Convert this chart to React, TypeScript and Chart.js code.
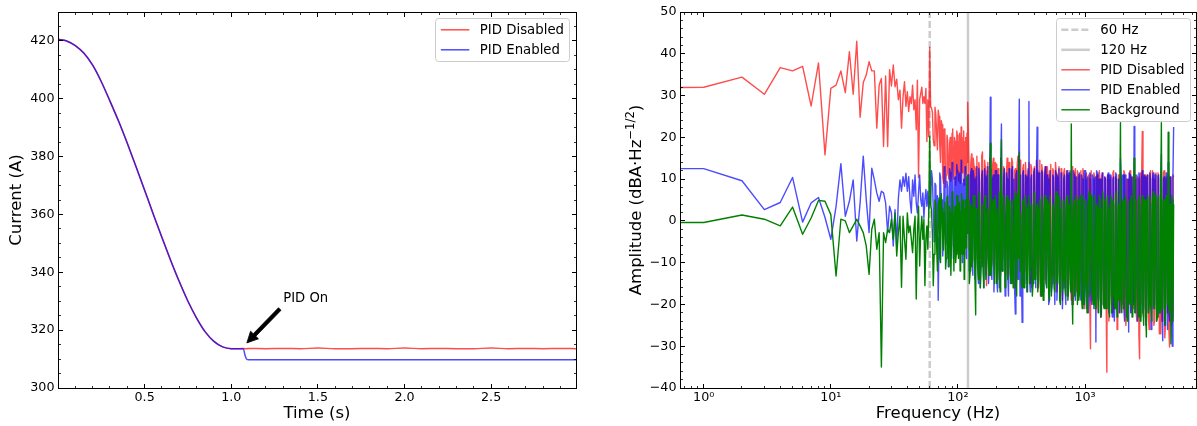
import React, { useEffect, useRef } from 'react';
import { Chart, registerables } from 'chart.js';

Chart.register(...registerables);

const FONT = "'DejaVu Sans', sans-serif";

// ---------------- Left panel: current vs time ----------------
const timeS = [
  0, 0.05, 0.1, 0.15, 0.2, 0.25, 0.3, 0.35, 0.4, 0.45,
  0.5, 0.55, 0.6, 0.65, 0.7, 0.75, 0.8, 0.85, 0.9, 0.95,
  1.0, 1.05, 1.07, 1.08, 1.09, 1.1, 1.2, 1.3, 1.4, 1.5,
  1.6, 1.7, 1.8, 1.9, 2.0, 2.1, 2.2, 2.3, 2.4, 2.5,
  2.6, 2.7, 2.8, 2.9, 2.99,
];
const currentPidOffA = [
  420.6, 420.0, 418.4, 415.7, 411.6, 405.9, 399.2, 392.2, 384.6, 376.6,
  368.4, 360.1, 352.0, 344.2, 336.8, 330.0, 324.2, 319.4, 316.1, 314.2,
  313.6, 313.6, 313.7, 313.6, 313.6, 313.7, 313.6, 313.7, 313.6, 313.8,
  313.6, 313.6, 313.7, 313.6, 313.8, 313.6, 313.7, 313.6, 313.6, 313.8,
  313.6, 313.7, 313.6, 313.7, 313.6,
];
const currentPidOnA = [
  420.6, 420.0, 418.4, 415.7, 411.6, 405.9, 399.2, 392.2, 384.6, 376.6,
  368.4, 360.1, 352.0, 344.2, 336.8, 330.0, 324.2, 319.4, 316.1, 314.2,
  313.6, 313.6, 313.5, 311.2, 309.9, 309.8, 309.8, 309.8, 309.8, 309.8,
  309.8, 309.8, 309.8, 309.8, 309.8, 309.8, 309.8, 309.8, 309.8, 309.8,
  309.8, 309.8, 309.8, 309.8, 309.8,
];
const timeTickValues = [0.5, 1.0, 1.5, 2.0, 2.5];
const currentTickValues = [300, 320, 340, 360, 380, 400, 420];

const annotationLabel = 'PID On';
const annotationTip = { x: 1.09, y: 315.6 };
const annotationTail = { x: 1.28, y: 327.3 };
const annotationTextAt = { x: 1.3, y: 329.8 };

// ---------------- Right panel: amplitude spectrum ----------------
const freqLowHz = [
  0.5, 1, 2, 3, 4, 5, 6, 7, 8, 9, 10,
  11, 12, 13, 14, 15, 16, 17, 18, 19, 20,
  21, 22, 23, 24, 25, 26, 27, 28, 29, 30,
  31, 32, 33, 34, 35, 36, 37, 38, 39, 40,
  41, 42, 43, 44, 45, 46, 47, 48, 49, 50,
  51, 52, 53, 54, 55, 56, 57, 58, 59, 60,
];
const freqMidHz = [
  62, 64, 66, 68, 70, 72, 74, 76, 78, 80,
  82, 84, 86, 88, 90, 92, 94, 96, 98, 100,
  102, 104, 106, 108, 110, 112, 114, 116, 118, 120,
];
const freqMidBHz = [
  61, 63, 65, 67, 69, 71, 73, 75, 77, 79,
  81, 83, 85, 87, 89, 91, 93, 95, 97, 99,
  101, 103, 105, 107, 109, 111, 113, 115, 117, 119,
];
const freqHighHz = [
  122, 125, 128, 131, 134, 138, 141, 145, 148, 152,
  156, 160, 164, 168, 172, 176, 180, 185, 190, 195,
  200, 205, 210, 215, 220, 226, 232, 238, 244, 250,
  256, 262, 269, 276, 283, 290, 297, 304, 312, 320,
  328, 336, 344, 353, 362, 371, 380, 390, 400, 410,
  420, 430, 441, 452, 463, 475, 487, 499, 512, 525,
  538, 551, 565, 579, 594, 609, 624, 640, 656, 672,
  689, 706, 724, 742, 760, 780, 800, 820, 840, 861,
  883, 905, 928, 951, 975, 1000, 1025, 1050, 1077, 1104,
  1131, 1160, 1189, 1218, 1249, 1280, 1312, 1345, 1379, 1413,
  1449, 1485, 1522, 1560, 1599, 1639, 1680, 1722, 1765, 1809,
  1855, 1901, 1949, 1997, 2047, 2099, 2151, 2205, 2260, 2317,
  2375, 2434, 2495, 2557, 2621, 2687, 2754, 2823, 2893, 2966,
  3040, 3116, 3194, 3274, 3355, 3439, 3525, 3613, 3704, 3796,
  3891, 3989, 4088, 4190, 4295, 4403, 4513, 4625, 4741, 4860,
  4981,
];
const freqHighBHz = [
  123, 126, 129, 132, 136, 139, 143, 146, 150, 154,
  158, 162, 166, 170, 174, 178, 182, 187, 192, 197,
  202, 207, 212, 217, 223, 229, 235, 241, 247, 253,
  259, 265, 272, 279, 286, 293, 300, 308, 316, 324,
  332, 340, 348, 357, 366, 375, 385, 395, 405, 415,
  425, 435, 446, 457, 469, 481, 493, 505, 518, 531,
  544, 558, 572, 586, 601, 616, 632, 648, 664, 680,
  697, 715, 733, 751, 770, 790, 810, 830, 850, 872,
  894, 916, 939, 963, 987, 1012, 1037, 1063, 1090, 1117,
  1145, 1174, 1203, 1233, 1264, 1296, 1328, 1362, 1396, 1431,
  1467, 1503, 1541, 1579, 1619, 1659, 1701, 1743, 1787, 1832,
  1878, 1925, 1973, 2022, 2073, 2125, 2178, 2232, 2288, 2346,
  2404, 2464, 2526, 2589, 2654, 2720, 2788, 2858, 2929, 3003,
  3078, 3155, 3234, 3314, 3397, 3482, 3569, 3658, 3750, 3843,
  3940, 4038, 4139, 4242, 4349, 4458, 4569, 4683, 4800, 4920,
];

// PID Disabled
const ampDisabledLow = [
  31.9, 32.0, 34.4, 30.3, 36.7, 35.9, 37.0, 27.5, 37.8, 15.8, 31.7,
  32.5, 35.9, 30.7, 40.5, 30.3, 43.0, 24.8, 33.1, 34.9, 38.1,
  35.9, 35.9, 22.2, 32.5, 34.1, 17.8, 34.7, 17.8, 36.2, 32.3,
  37.3, 32.1, 33.9, 29.0, 31.3, 22.2, 29.7, 33.3, 27.4, 30.9,
  26.2, 29.7, 28.1, 32.5, 26.6, 29.0, 21.8, 33.7, 10.3, 29.0,
  30.5, 32.0, 28.1, 29.7, 28.1, 31.7, 19.0, 29.0, 20.2, 41.6,
];
const ampDisabledMid = [
  27.0, 19.5, 27.2, 21.0, 26.5, 18.0, 24.0, 10.5, 22.0, 8.0,
  20.5, 12.0, 18.5, 9.5, 21.0, 11.0, 20.0, 8.5, 21.5, 12.5,
  19.0, 9.0, 22.5, 11.5, 20.0, 8.5, 19.0, 12.0, 21.0, 28.4,
];
const ampDisabledMidB = [
  27.4, 26.0, 18.0, 25.5, 17.0, 25.0, 14.0, 23.0, 9.0, 21.0,
  11.0, 19.5, 10.0, 20.0, 12.5, 22.0, 10.0, 19.0, 11.5, 20.5,
  9.5, 21.0, 10.5, 19.5, 12.0, 21.5, 9.5, 20.0, 11.0, 14.0,
];
const ampDisabledHigh = [
  14.5, -6, 16, -4, 13, -9, 15.5, -3, 12, -8,
  16.5, -5, 13, -15.5, 14, -7, 12.5, -10, 15, -4,
  13.5, -12, 11, -6, 14.5, -9, 12, -13, 15, -5,
  11.5, -11, 14, -8, 12.5, -14, 15.5, -6, 12, -10,
  13.5, -12, 11, -7, 14, -15, 12.5, -9, 13, -13,
  11.5, -16, 14.5, -8, 12, -14, 13, -11, 11, -17,
  13.5, -10, 12, -15, 11.5, -12, 13, -18, 11, -9,
  12.5, -16, 11, -13, 12, -19, 10.5, -11, 12.5, -17,
  11, -14, 12, -20, 10.5, -12, 11.5, -18, 10, -30.6,
  12, -15, 10.5, -21, 11, -17, 10, -23, 11.5, -14,
  10, -36.2, 11, -19, 10.5, -22, 12, -16, 10, -24,
  11, -18, 10.5, -21, 11.5, -25, 10, -17, 12, -22,
  10.5, -19, 11, -24, 10, -33, -20, 21.4, -23, 11,
  -18, 10.5, -26, 12, -20, 10, -24, 11.5, -19, 10,
  -27, 11, -21, 12, -25, 10.5, 11, -30.2, 10, -23,
  10.5,
];
const ampDisabledHighB = [
  -7, 13.5, -5, 15, -10, 12.5, -6, 14, -9, 15.5,
  -11, 14.5, -6, 12, -9, 15, -12, 13, -5, 14,
  -8, 12.5, -14, 15, -7, 13, -10, 11.5, -12, 14,
  -13, 15, -9, 12, -16, 13.5, -8, 14.5, -11, 12.5,
  -10, 14, -14, 12, -8, 13.5, -16, 11.5, -12, 14.5,
  -13, 12, -18, 13.5, -10, 11.5, -15, 13, -12, 12,
  -16, 12.5, -11, 14, -17, 11, -13, 12.5, -19, 11.5,
  -14, 12, -18, 11, -15, 13, -20, 11.5, -13, 12,
  -18, 11, -15, 12.5, -21, 10.5, -16, 11, -19, 12,
  -19, 11.5, -16, 10.5, -22, 12, -18, 11, -20, 10.5,
  -20, 11, -24, 10, -18, 11.5, -21, 10.5, -26, 11,
  -22, 10.5, -19, 12, -23, 10, -21, 11.5, -18, 10.5,
  -21, 11, -22, 10.5, -27, 11.5, 10, -22, 10.5, -24,
  11, -23, 10.5, -21, 12, -25, 10, -22, 11.5, -27,
  10.5, -24, 11.5, -28, 10, -22, -26, 10.5, -25, 11,
];

// PID Enabled
const ampEnabledLow = [
  12.5, 12.5, 9.6, 2.7, 4.4, 10.4, -0.3, 4.3, 5.6, 0.8, -4.4,
  3.5, 13.7, 1.1, 4.7, 9.8, -4.8, 4.3, 15.5, 5.1, -2.8,
  12.6, 9.8, 6.7, 4.7, 7.1, 6.7, 4.3, -2.8, 3.5, 1.9,
  -6.0, 2.7, -6.0, 5.4, 9.8, 7.1, 10.6, 8.3, 11.4, 7.1,
  10.6, 5.1, 1.9, 9.8, 5.9, 11.0, 4.3, 1.9, 6.7, 11.0,
  5.1, 3.5, 6.7, 0.7, 5.1, 7.5, 3.5, 7.1, 2.7, 5.9,
];
const ampEnabledMid = [
  12.0, 3.0, 9.0, -2.0, -19.0, 11.5, 2.0, -8.4, 13.0, -6.0,
  9.5, -11.0, 12.5, 0.5, 14.0, -9.0, 10.0, -3.0, 13.5, -7.0,
  11.0, -4.0, 14.5, -10.0, 9.0, -1.0, 13.0, -8.0, 10.5, 11.0,
];
const ampEnabledMidB = [
  4.0, 10.0, -5.0, 8.5, 6.0, -4.0, 10.5, 5.0, -3.0, 11.0,
  -5.0, 8.0, -2.0, 11.5, -6.0, 12.0, -8.0, 10.5, -4.0, 12.0,
  -6.0, 11.5, -3.0, 12.0, -7.0, 10.0, -5.0, 12.5, -9.0, 4.0,
];
const ampEnabledHigh = [
  11, -8, 12.5, -13, 10, -10, 13, -15, 9.5, -11,
  12, -16, 10.5, -9, 13, -12, 29.6, -14, 11, -10,
  12, -17, 10, -13, 23.2, -11, 12.5, -15, 10, -18,
  11.5, -12, 13, 10, -22.3, 12, -14, 29.1, 11, -24.3,
  12, -15, 10.5, -11, 28.6, -17, 11, -13, 12.5, -16,
  22.4, -12, 10, -18, 11.5, -14, 13, -16, 10, -19,
  12, -15, 10.5, -20, 11, -13, 12.5, -18, 10, -16,
  11, -20, 12, -15, 10.5, 12, -17, 11, -19, 10,
  -14, 11.5, -19, 10, -16, 12, -21, 10.5, -17, 11,
  -20, 10, -18, -29, 11.5, -19, 10, -22, 11, -17,
  10, -21, 11.5, -18, 9.5, -23, 10.5, -19, 11, -22,
  10, 15, -20, 11, -24, 10.5, -19, -26.6, 11, -21,
  10.5, 22.6, -22, 11, -20, 10, -23, 12, -21, 10.5,
  -24, 11, -19, 10, -25, 11.5, -20, 10, -23, 11,
  -21, 16, -28.7, 10.5, -22, 11, 14, -24, 10, -30,
  22.5,
];
const ampEnabledHighB = [
  -12, 11.5, -9, 12, -14, 10.5, -11, 12.5, -16, 11,
  -10, 12.5, -13, 11, -15, 11.5, -12, 10, -17, 12,
  -14, 11, -16, 12, -12, 10.5, -18, 11.5, -13, 12.5,
  -15, 12, -11, -16, 11, -13, 10.5, -18, -12, 11.5,
  -13, 11, -17, 12.5, -14, 10, -16, 11.5, -12, 10.5,
  -16, 11.5, -14, 12, -17, 10.5, -13, 11, -20, 12,
  -17, 11, -14, 12, -19, 10.5, -16, 11.5, -21, 10,
  -16, 10.5, -18, 11.5, -14, -20, 12, -16, 10.5, -18,
  10.5, -17, 11, -20, 12, -15, 10, -22, 11.5, -19,
  11, -21, 10.5, 12, -18, 10, -23, 11.5, -20, 10.5,
  -19, 10.5, -22, 11, -20, 10, -24, 11.5, -21, 10,
  -22, 11, 10.5, -21, 11, -23, 10, 11.5, -22, 10.5,
  -20, 11, 10, -24, 11.5, -21, 10.5, -22, 11, -25,
  10.5, -22, 11.5, -26, 10, -21, 11, -24, 10.5, -22,
  11, -23, 10, -25, 11.5, -26, -21, 10.5, -27, 11,
];

// Background
const ampBackgroundLow = [
  -0.4, -0.4, 1.4, 0.4, -1.2, 3.3, -3.2, 0.7, 4.9, 4.7, 1.5,
  -13.2, 0.4, 0.0, -2.8, -1.2, 0.4, -1.2, -2.8, -6.0, -12.8,
  -2.0, 0.4, -6.8, -2.8, -35.0, -2.8, -5.2, -2.0, -2.8, 0.4,
  -4.4, 1.9, -8.4, -2.8, 1.1, -15.9, 1.1, -4.4, -9.2, 1.9,
  -2.8, -1.2, -4.4, -7.6, -2.0, 1.1, -18.7, -2.8, 3.5, -10.8,
  -2.8, 1.1, -4.4, 0.4, -15.5, -4.4, -1.2, -6.8, 2.7, 20.3,
];
const ampBackgroundMid = [
  2.5, -15.5, 5.0, -6.0, 3.0, -9.0, 6.5, -4.0, 2.0, -11.5,
  5.5, -7.0, 3.5, -13.0, 7.0, -3.5, 1.0, -10.0, 6.0, -5.5,
  4.0, -12.0, 2.5, -8.0, 5.0, -14.0, 3.0, -6.5, 10.7, -3.0,
];
const ampBackgroundMidB = [
  4.0, -3.0, -8.0, 4.0, -12.0, 5.5, -10.0, 3.0, -7.0, 4.5,
  -9.0, 6.0, -11.0, 2.0, -6.0, 5.0, -12.0, 3.5, -8.0, 6.0,
  -9.0, 4.5, -10.5, 6.5, -7.0, 3.0, -12.5, 5.0, -5.0, 3.0,
];
const ampBackgroundHigh = [
  5, -12, 3, -9, 6, -22.5, 2, -14, 7, -10,
  4, -16, 6, -11, 3, -13, 18.6, -9, 5, -15,
  2, -12, 7, -17, 19.4, -10, 4, -14, 6, -11,
  3, -15, 5, -12, 7, -18, -9, 16.3, 2, -16,
  5, -13, 3, -17, 6, -11, 4, -15, 7, -12,
  4, -14, 5, -18, 3, -12, 6, -16, 4, -19,
  6, -13, 3, -17, 7, -15, 4, -20, 5, -14,
  3, -18, 6, -16, 4, 23.2, -24.7, 5, -15, 6,
  5, -17, 3, -21, 6, -15, 4, -19, 7, -16,
  4, -20, 6, -18, 3, -22, 5, -17, 7, -21,
  5, -19, 3, -23, 6, -18, 4, -21, 7, -20,
  -19, 23.5, -22, 5, -18, 6, -24, 4, -20, 6,
  -21, 15, -19, 5, -23, 4, -20, 6, -25, 5,
  -27.8, 6, -20, 4, -24, 7, -21, 5, -23, 6,
  -22, 23.5, -19, 5, -25, 4, 21.2, -20, -29.4, 5,
  4,
];
const ampBackgroundHighB = [
  -15, 4, -11, 6, -13, 3, -10, 5, -16, 2,
  -12, 5, -14, 2, -10, 7, -13, 4, -11, 6,
  -15, 3, -13, 5, -12, 6, -16, 2, -14, 5,
  -13, 4, -16, 3, -14, 6, 4, -12, -15, 5,
  -16, 6, -12, 4, -15, 3, -18, 5, -14, 2,
  -17, 3, -15, 6, -19, 4, -14, 5, -17, 6,
  -18, 4, -16, 5, -14, 6, -19, 3, -17, 5,
  -16, 5, -19, 4, -17, -15, 3, -18, 6, -20,
  -19, 6, -18, 4, -20, 5, -22, 3, -18, 6,
  -18, 5, -21, 4, -19, 6, -23, 3, -20, 5,
  -21, 6, -20, 4, -22, 5, -19, 6, -23, 4,
  5, -20, 4, -21, 6, -22, 5, -19, 4, -23,
  6, -22, 5, -20, 6, -24, 4, -21, 5, -22,
  5, -22, 6, -21, 4, -20, 6, -24, 5, -21,
  6, -21, 5, -23, 6, -20, -22, 4, 6, -24,
];

const markerFreqsHz = [60, 120];
const markerLabels = ['60 Hz', '120 Hz'];
const freqTickValues = [1, 10, 100, 1000];
const ampTickValues = [-40, -30, -20, -10, 0, 10, 20, 30, 40, 50];

const AMP_MIN = -40;
const AMP_MAX = 50;
const FREQ_MIN = 0.6508;
const FREQ_MAX = 7468;

const SUP: Record<string, string> = { '0': '⁰', '1': '¹', '2': '²', '3': '³', '4': '⁴', '-': '⁻' };

// ---------------- plugins ----------------
function makeFramePlugin(cfg: { xMajor: number[]; xMinor: number[]; yMajor: number[]; yMinor: number[] }) {
  return {
    id: 'frameTicks',
    afterDatasetsDraw(chart: any) {
      const { ctx, chartArea: a } = chart;
      const xs = chart.scales.x;
      const ys = chart.scales.y;
      const L = Math.floor(a.left) + 0.5;
      const R = Math.floor(a.right) + 0.5;
      const T = Math.floor(a.top) + 0.5;
      const B = Math.floor(a.bottom) + 0.5;
      ctx.save();
      ctx.strokeStyle = '#000';
      ctx.lineWidth = 1;
      ctx.beginPath();
      const xt = (vals: number[], len: number) => {
        for (const v of vals) {
          const p = xs.getPixelForValue(v);
          if (p <= a.left + 1 || p >= a.right - 1) continue;
          const px = Math.floor(p) + 0.5;
          ctx.moveTo(px, B);
          ctx.lineTo(px, B - len);
          ctx.moveTo(px, T);
          ctx.lineTo(px, T + len);
        }
      };
      const yt = (vals: number[], len: number) => {
        for (const v of vals) {
          const p = ys.getPixelForValue(v);
          if (p <= a.top + 1 || p >= a.bottom - 1) continue;
          const py = Math.floor(p) + 0.5;
          ctx.moveTo(L, py);
          ctx.lineTo(L + len, py);
          ctx.moveTo(R, py);
          ctx.lineTo(R - len, py);
        }
      };
      xt(cfg.xMajor, 4.5);
      yt(cfg.yMajor, 4.5);
      ctx.stroke();
      ctx.beginPath();
      ctx.lineWidth = 0.8;
      xt(cfg.xMinor, 2.5);
      yt(cfg.yMinor, 2.5);
      ctx.stroke();
      ctx.lineWidth = 1;
      ctx.strokeRect(L, T, R - L, B - T);
      ctx.restore();
    },
  };
}

function makeLegendPlugin(cfg: { rightInset: number; topInset: number; fontSize: number }) {
  return {
    id: 'boxLegend',
    afterDraw(chart: any) {
      const { ctx, chartArea: a } = chart;
      const items = chart.data.datasets;
      ctx.save();
      ctx.font = `${cfg.fontSize}px ${FONT}`;
      const maxW = Math.max(...items.map((d: any) => ctx.measureText(d.label).width));
      const padL = 5;
      const handle = 28.5;
      const gap = 10.5;
      const padR = 6;
      const rowH = 20;
      const padV = 11.5;
      const w = padL + handle + gap + maxW + padR;
      const h = padV * 2 + rowH * (items.length - 1);
      const x1 = a.right - cfg.rightInset;
      const x0 = x1 - w;
      const y0 = a.top + cfg.topInset;
      const r = 3;
      const bx = Math.floor(x0) + 0.5;
      const by = Math.floor(y0) + 0.5;
      const bw = Math.round(w);
      const bh = Math.round(h);
      ctx.beginPath();
      ctx.moveTo(bx + r, by);
      ctx.lineTo(bx + bw - r, by);
      ctx.arcTo(bx + bw, by, bx + bw, by + r, r);
      ctx.lineTo(bx + bw, by + bh - r);
      ctx.arcTo(bx + bw, by + bh, bx + bw - r, by + bh, r);
      ctx.lineTo(bx + r, by + bh);
      ctx.arcTo(bx, by + bh, bx, by + bh - r, r);
      ctx.lineTo(bx, by + r);
      ctx.arcTo(bx, by, bx + r, by, r);
      ctx.closePath();
      ctx.fillStyle = 'rgba(255,255,255,0.8)';
      ctx.fill();
      ctx.strokeStyle = '#cccccc';
      ctx.lineWidth = 1;
      ctx.stroke();
      items.forEach((d: any, i: number) => {
        const y = y0 + padV + i * rowH;
        ctx.beginPath();
        ctx.strokeStyle = d.borderColor;
        ctx.lineWidth = d.borderWidth;
        ctx.setLineDash(d.borderDash || []);
        ctx.moveTo(x0 + padL, y);
        ctx.lineTo(x0 + padL + handle, y);
        ctx.stroke();
        ctx.setLineDash([]);
        ctx.fillStyle = '#000';
        ctx.textAlign = 'left';
        ctx.textBaseline = 'middle';
        ctx.fillText(d.label, x0 + padL + handle + gap, y + 0.5);
      });
      ctx.restore();
    },
  };
}

const annotationPlugin = {
  id: 'pidOnAnnotation',
  afterDraw(chart: any) {
    const { ctx } = chart;
    const xs = chart.scales.x;
    const ys = chart.scales.y;
    const tip = [xs.getPixelForValue(annotationTip.x), ys.getPixelForValue(annotationTip.y)];
    const tail = [xs.getPixelForValue(annotationTail.x), ys.getPixelForValue(annotationTail.y)];
    const txt = [xs.getPixelForValue(annotationTextAt.x), ys.getPixelForValue(annotationTextAt.y)];
    ctx.save();
    ctx.font = `13.2px ${FONT}`;
    ctx.fillStyle = '#000';
    ctx.textAlign = 'left';
    ctx.textBaseline = 'alphabetic';
    ctx.fillText(annotationLabel, txt[0], txt[1]);
    const dx = tip[0] - tail[0];
    const dy = tip[1] - tail[1];
    const len = Math.hypot(dx, dy);
    const ux = dx / len;
    const uy = dy / len;
    const nx = -uy;
    const ny = ux;
    const headLen = 11;
    const headW = 11;
    const shaftW = 3.6;
    const bxp = tip[0] - ux * headLen;
    const byp = tip[1] - uy * headLen;
    ctx.beginPath();
    ctx.moveTo(tail[0] + nx * shaftW / 2, tail[1] + ny * shaftW / 2);
    ctx.lineTo(bxp + nx * shaftW / 2, byp + ny * shaftW / 2);
    ctx.lineTo(bxp + nx * headW / 2, byp + ny * headW / 2);
    ctx.lineTo(tip[0], tip[1]);
    ctx.lineTo(bxp - nx * headW / 2, byp - ny * headW / 2);
    ctx.lineTo(bxp - nx * shaftW / 2, byp - ny * shaftW / 2);
    ctx.lineTo(tail[0] - nx * shaftW / 2, tail[1] - ny * shaftW / 2);
    ctx.closePath();
    ctx.fill();
    ctx.lineWidth = 0.8;
    ctx.strokeStyle = '#000';
    ctx.stroke();
    ctx.restore();
  },
};

const ampTitlePlugin = {
  id: 'ampTitle',
  afterDraw(chart: any) {
    const { ctx, chartArea: a } = chart;
    const main = 'Amplitude (dBA·Hz';
    const sup = '−1/2';
    const close = ')';
    const big = `16.5px ${FONT}`;
    const small = `11.6px ${FONT}`;
    ctx.save();
    ctx.font = big;
    const w1 = ctx.measureText(main).width;
    const w3 = ctx.measureText(close).width;
    ctx.font = small;
    const w2 = ctx.measureText(sup).width;
    const total = w1 + w2 + w3;
    ctx.translate(40.5, (a.top + a.bottom) / 2);
    ctx.rotate(-Math.PI / 2);
    ctx.fillStyle = '#000';
    ctx.textAlign = 'left';
    ctx.textBaseline = 'alphabetic';
    let x = -total / 2;
    ctx.font = big;
    ctx.fillText(main, x, 0);
    x += w1;
    ctx.font = small;
    ctx.fillText(sup, x, -7);
    x += w2;
    ctx.font = big;
    ctx.fillText(close, x, 0);
    ctx.restore();
  },
};

function range(a: number, b: number, step: number) {
  const out: number[] = [];
  for (let v = a; v <= b + 1e-9; v += step) out.push(Math.round(v * 1000) / 1000);
  return out;
}

function buildPoints(parts: Array<[number[], number[]]>) {
  const pts: { x: number; y: number }[] = [];
  for (const [fs, vs] of parts) {
    fs.forEach((f, i) => pts.push({ x: f, y: vs[i] }));
  }
  pts.sort((p, q) => p.x - q.x);
  return pts;
}

const tickFont = { family: FONT, size: 12.7 };
const titleFont = { family: FONT, size: 16.5 };

export default function App() {
  const leftRef = useRef<HTMLCanvasElement | null>(null);
  const rightRef = useRef<HTMLCanvasElement | null>(null);

  useEffect(() => {
    if (!leftRef.current || !rightRef.current) return;

    // ---------- left chart ----------
    const leftXMinor = range(0.1, 2.9, 0.1).filter((v) => !timeTickValues.some((m) => Math.abs(m - v) < 1e-6));
    const leftYMinor = range(305, 425, 5).filter((v) => v % 20 !== 0);

    const left = new Chart(leftRef.current, {
      type: 'line',
      data: {
        datasets: [
          {
            label: 'PID Disabled',
            data: timeS.map((t, i) => ({ x: t, y: currentPidOffA[i] })),
            borderColor: 'rgba(255,0,0,0.7)',
            borderWidth: 1.5,
            pointRadius: 0,
            cubicInterpolationMode: 'monotone',
            order: 1,
          },
          {
            label: 'PID Enabled',
            data: timeS.map((t, i) => ({ x: t, y: currentPidOnA[i] })),
            borderColor: 'rgba(0,0,255,0.7)',
            borderWidth: 1.5,
            pointRadius: 0,
            cubicInterpolationMode: 'monotone',
            order: 0,
          },
        ],
      },
      options: {
        animation: false,
        responsive: false,
        devicePixelRatio: 1,
        events: [],
        layout: { padding: { left: 0, right: 24, top: 12, bottom: 0 } },
        elements: { line: { borderJoinStyle: 'round' } },
        plugins: { legend: { display: false }, tooltip: { enabled: false } },
        scales: {
          x: {
            type: 'linear',
            min: 0,
            max: 2.99,
            grid: { display: false, drawTicks: false },
            border: { display: false },
            afterBuildTicks: (s: any) => {
              s.ticks = timeTickValues.map((v) => ({ value: v }));
            },
            afterFit: (s: any) => {
              s.height = 38;
            },
            ticks: {
              autoSkip: false,
              maxRotation: 0,
              padding: 2,
              color: '#000',
              font: tickFont,
              callback: (v: any) => Number(v).toFixed(1),
            },
            title: {
              display: true,
              text: 'Time (s)',
              color: '#000',
              font: titleFont,
              padding: { top: 0, bottom: 2 },
            },
          },
          y: {
            type: 'linear',
            min: 300,
            max: 430,
            grid: { display: false, drawTicks: false },
            border: { display: false },
            afterBuildTicks: (s: any) => {
              s.ticks = currentTickValues.map((v) => ({ value: v }));
            },
            afterFit: (s: any) => {
              s.width = 58;
            },
            ticks: {
              autoSkip: false,
              padding: 3.5,
              color: '#000',
              font: tickFont,
              callback: (v: any) => String(v),
            },
            title: {
              display: true,
              text: 'Current (A)',
              color: '#000',
              font: titleFont,
              padding: { top: 7, bottom: 0 },
            },
          },
        },
      } as any,
      plugins: [
        makeFramePlugin({ xMajor: timeTickValues, xMinor: leftXMinor, yMajor: currentTickValues, yMinor: leftYMinor }),
        annotationPlugin,
        makeLegendPlugin({ rightInset: 6, topInset: 6.3, fontSize: 13.3 }),
      ],
    });

    // ---------- right chart ----------
    const disabled = buildPoints([
      [freqLowHz, ampDisabledLow],
      [freqMidHz, ampDisabledMid],
      [freqMidBHz, ampDisabledMidB],
      [freqHighHz, ampDisabledHigh],
      [freqHighBHz, ampDisabledHighB],
    ]);
    const enabled = buildPoints([
      [freqLowHz, ampEnabledLow],
      [freqMidHz, ampEnabledMid],
      [freqMidBHz, ampEnabledMidB],
      [freqHighHz, ampEnabledHigh],
      [freqHighBHz, ampEnabledHighB],
    ]);
    const background = buildPoints([
      [freqLowHz, ampBackgroundLow],
      [freqMidHz, ampBackgroundMid],
      [freqMidBHz, ampBackgroundMidB],
      [freqHighHz, ampBackgroundHigh],
      [freqHighBHz, ampBackgroundHighB],
    ]);

    const rightXMinor: number[] = [];
    for (let k = -1; k <= 3; k++) {
      for (let m = 2; m <= 9; m++) {
        const v = m * Math.pow(10, k);
        if (v > FREQ_MIN && v < FREQ_MAX) rightXMinor.push(v);
      }
    }
    const rightYMinor = range(-38, 48, 2).filter((v) => v % 10 !== 0);

    const right = new Chart(rightRef.current, {
      type: 'line',
      data: {
        datasets: [
          {
            label: markerLabels[0],
            data: [
              { x: markerFreqsHz[0], y: AMP_MIN },
              { x: markerFreqsHz[0], y: AMP_MAX },
            ],
            borderColor: 'rgba(128,128,128,0.4)',
            borderWidth: 2.5,
            borderDash: [7, 3],
            pointRadius: 0,
            order: 4,
          },
          {
            label: markerLabels[1],
            data: [
              { x: markerFreqsHz[1], y: AMP_MIN },
              { x: markerFreqsHz[1], y: AMP_MAX },
            ],
            borderColor: 'rgba(128,128,128,0.4)',
            borderWidth: 2.5,
            pointRadius: 0,
            order: 3,
          },
          {
            label: 'PID Disabled',
            data: disabled,
            borderColor: 'rgba(255,0,0,0.7)',
            borderWidth: 1.4,
            pointRadius: 0,
            order: 2,
          },
          {
            label: 'PID Enabled',
            data: enabled,
            borderColor: 'rgba(0,0,255,0.7)',
            borderWidth: 1.4,
            pointRadius: 0,
            order: 1,
          },
          {
            label: 'Background',
            data: background,
            borderColor: 'rgb(0,128,0)',
            borderWidth: 1.4,
            pointRadius: 0,
            order: 0,
          },
        ],
      },
      options: {
        animation: false,
        responsive: false,
        devicePixelRatio: 1,
        events: [],
        layout: { padding: { left: 0, right: 1, top: 12, bottom: 0 } },
        elements: { line: { borderJoinStyle: 'round', tension: 0 } },
        plugins: { legend: { display: false }, tooltip: { enabled: false } },
        scales: {
          x: {
            type: 'logarithmic',
            min: FREQ_MIN,
            max: FREQ_MAX,
            grid: { display: false, drawTicks: false },
            border: { display: false },
            afterBuildTicks: (s: any) => {
              s.ticks = freqTickValues.map((v) => ({ value: v }));
            },
            afterFit: (s: any) => {
              s.height = 38;
            },
            ticks: {
              autoSkip: false,
              maxRotation: 0,
              padding: 2,
              color: '#000',
              font: tickFont,
              callback: (v: any) => {
                const e = String(Math.round(Math.log10(Number(v))));
                return '10' + e.split('').map((c) => SUP[c] || c).join('');
              },
            },
            title: {
              display: true,
              text: 'Frequency (Hz)',
              color: '#000',
              font: titleFont,
              padding: { top: 0, bottom: 2 },
            },
          },
          y: {
            type: 'linear',
            min: AMP_MIN,
            max: AMP_MAX,
            grid: { display: false, drawTicks: false },
            border: { display: false },
            afterBuildTicks: (s: any) => {
              s.ticks = ampTickValues.map((v) => ({ value: v }));
            },
            afterFit: (s: any) => {
              s.width = 80;
            },
            ticks: {
              autoSkip: false,
              padding: 3.5,
              color: '#000',
              font: tickFont,
              callback: (v: any) => (Number(v) < 0 ? '−' + Math.abs(Number(v)) : String(v)),
            },
            title: { display: false },
          },
        },
      } as any,
      plugins: [
        makeFramePlugin({ xMajor: freqTickValues, xMinor: rightXMinor, yMajor: ampTickValues, yMinor: rightYMinor }),
        ampTitlePlugin,
        makeLegendPlugin({ rightInset: 5.5, topInset: 6.3, fontSize: 13.3 }),
      ],
    });

    return () => {
      left.destroy();
      right.destroy();
    };
  }, []);

  return (
    <div style={{ position: 'fixed', left: 0, top: 0, width: 1197, height: 426, background: '#fff', overflow: 'hidden' }}>
      <canvas
        ref={leftRef}
        width={600}
        height={426}
        style={{ position: 'absolute', left: 0, top: 0, width: 600, height: 426 }}
      />
      <canvas
        ref={rightRef}
        width={597}
        height={426}
        style={{ position: 'absolute', left: 600, top: 0, width: 597, height: 426 }}
      />
    </div>
  );
}
